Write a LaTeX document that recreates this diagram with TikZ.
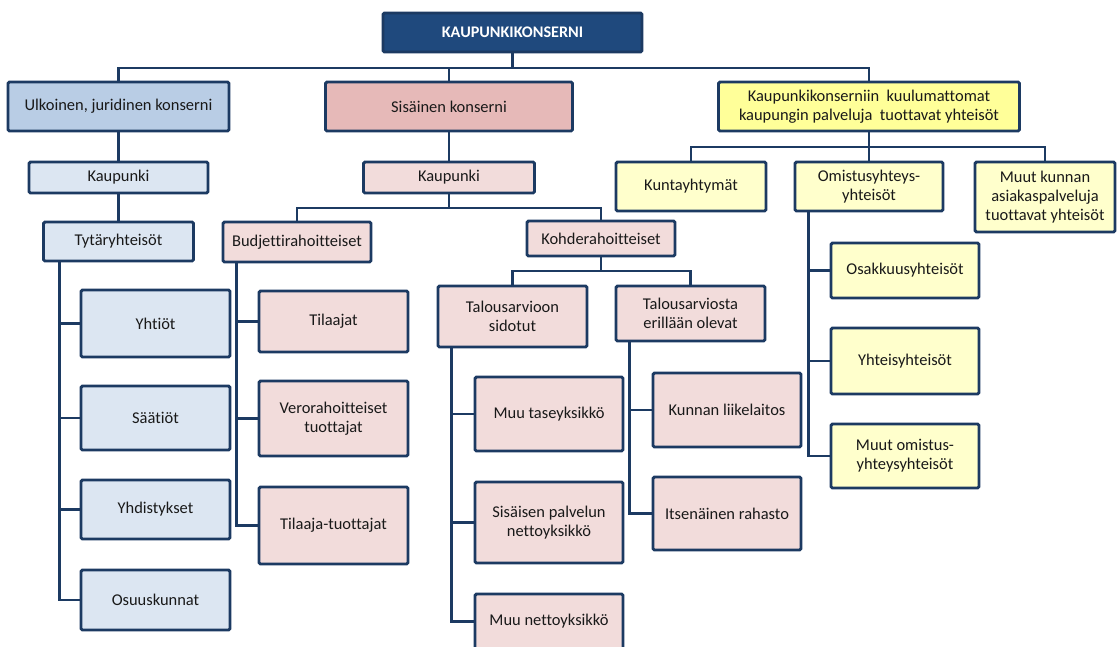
\documentclass[tikz,border=0pt]{standalone}
\usepackage{fontspec}
\setmainfont{Carlito}[Ligatures=NoCommon]
\usetikzlibrary{calc}
\definecolor{bord}{RGB}{28,58,98}
\definecolor{topb}{RGB}{31,73,125}
\definecolor{blue1}{RGB}{185,205,229}
\definecolor{blue2}{RGB}{220,230,242}
\definecolor{pink1}{RGB}{230,185,184}
\definecolor{pink2}{RGB}{242,220,219}
\definecolor{yel1}{RGB}{255,255,153}
\definecolor{yel2}{RGB}{255,255,204}
\tikzset{
  bx/.style={draw=bord,line width=2.1pt,rounded corners=1pt,align=center,inner sep=1pt,text=black!90,font=\fontsize{11.7}{13.6}\selectfont},
  sz/.style 2 args={minimum width=#1*0.025cm,minimum height=#2*0.025cm},
  con/.style={draw=bord,line width=2.1pt},
}
\begin{document}
\begin{tikzpicture}[x=0.025cm,y=-0.025cm]
\pgfmathsetmacro{\tr}{15}
\useasboundingbox (0,0) rectangle (1117,646);
\node[bx,sz={259}{39},fill=topb,text=white,font=\bfseries\fontsize{11.5}{13}\selectfont] (top) at (512.5,32.5) {KAUPUNKIKONSERNI};
\node[bx,sz={221}{49},fill=blue1] (ulk) at (118.5,106.5) {Ulkoinen, juridinen konserni};
\node[bx,sz={247}{49},fill=pink1] (sis) at (449,106.5) {Sisäinen konserni};
\node[bx,sz={301}{49},fill=yel1] (yel) at (869,106.5) {Kaupunkikonserniin\ \ kuulumattomat\\kaupungin palveluja\ \ tuottavat yhteisöt};
\node[bx,sz={179}{31},fill=blue2] (kb) at (118.5,177.5) {Kaupunki};
\node[bx,sz={171}{31},fill=pink2] (kp) at (449,177.5) {Kaupunki};
\node[bx,sz={150}{49},fill=yel2] (kun) at (691,186.5) {Kuntayhtymät};
\node[bx,sz={148}{49},fill=yel2] (omi) at (869,186.5) {Omistusyhteys-\\yhteisöt};
\node[bx,sz={140}{70},fill=yel2] (muu) at (1045,197) {Muut kunnan\\asiakaspalveluja\\tuottavat yhteisöt};
\node[bx,sz={150}{39},fill=blue2] (tyt) at (118.5,241.5) {Tytäryhteisöt};
\node[bx,sz={149}{67},fill=blue2] (yht) at (155.5,323.5) {Yhtiöt};
\node[bx,sz={149}{64},fill=blue2] (saa) at (155.5,418) {Säätiöt};
\node[bx,sz={149}{59},fill=blue2] (yhd) at (155.5,509.5) {Yhdistykset};
\node[bx,sz={149}{60},fill=blue2] (osu) at (155.5,600) {Osuuskunnat};
\node[bx,sz={148}{40},fill=pink2] (bud) at (297,242) {Budjettirahoitteiset};
\node[bx,sz={149}{61},fill=pink2] (til) at (333.5,321.5) {Tilaajat};
\node[bx,sz={149}{75},fill=pink2] (ver) at (333.5,418.5) {Verorahoitteiset\\tuottajat};
\node[bx,sz={149}{77},fill=pink2] (tt) at (333.5,525.5) {Tilaaja-tuottajat};
\node[bx,sz={148}{35},fill=pink2] (koh) at (601,238.5) {Kohderahoitteiset};
\node[bx,sz={149}{61},fill=pink2] (tsi) at (512.5,316.5) {Talousarvioon\\sidotut};
\node[bx,sz={149}{55},fill=pink2] (ter) at (690.5,313.5) {Talousarviosta\\erillään olevat};
\node[bx,sz={148}{74},fill=pink2] (mut) at (549,414) {Muu taseyksikkö};
\node[bx,sz={148}{81},fill=pink2] (spn) at (549,522.5) {Sisäisen palvelun\\nettoyksikkö};
\node[bx,sz={148}{55},fill=pink2] (mne) at (549,621.5) {Muu nettoyksikkö};
\node[bx,sz={148}{74},fill=pink2] (kli) at (727,410) {Kunnan liikelaitos};
\node[bx,sz={148}{73},fill=pink2] (its) at (727,513.5) {Itsenäinen rahasto};
\node[bx,sz={148}{55},fill=yel2] (osa) at (905,270.5) {Osakkuusyhteisöt};
\node[bx,sz={148}{66},fill=yel2] (yhs) at (905,361) {Yhteisyhteisöt};
\node[bx,sz={148}{64},fill=yel2] (muo) at (905,456) {Muut omistus-\\yhteysyhteisöt};
\coordinate (b1) at (0,68);
\coordinate (b2) at (0,208);
\coordinate (b3) at (0,271);
\coordinate (b4) at (0,147);
\draw[con] (ulk.north) |- (b1 -| yel.north) -- (yel.north);
\draw[con] (top.south) -- (top.south |- b1);
\draw[con] (sis.north) -- (sis.north |- b1);
\draw[con] (ulk.south) -- (kb.north);
\draw[con] (kb.south) -- (tyt.north);
\draw[con] (sis.south) -- (kp.north);
\draw[con] (bud.north) |- (b2 -| koh.north) -- (koh.north);
\draw[con] (kp.south) -- (kp.south |- b2);
\draw[con] (tsi.north) |- (b3 -| ter.north) -- (ter.north);
\draw[con] (koh.south) -- (koh.south |- b3);
\draw[con] (kun.north) |- (b4 -| muu.north) -- (muu.north);
\draw[con] (yel.south) -- (omi.north);
\coordinate (ttyt) at ($(tyt.south west)+(17,0)$);
\draw[con] (ttyt) |- (osu.west);
\foreach \c in {yht,saa,yhd} \draw[con] (ttyt |- \c.west) -- (\c.west);
\coordinate (tbud) at ($(bud.south west)+(\tr,0)$);
\draw[con] (tbud) |- (tt.west);
\foreach \c in {til,ver} \draw[con] (tbud |- \c.west) -- (\c.west);
\coordinate (ttsi) at ($(tsi.south west)+(\tr,0)$);
\draw[con] (ttsi) |- (mne.west);
\foreach \c in {mut,spn} \draw[con] (ttsi |- \c.west) -- (\c.west);
\coordinate (tter) at ($(ter.south west)+(\tr,0)$);
\draw[con] (tter) |- (its.west);
\draw[con] (tter |- kli.west) -- (kli.west);
\coordinate (tomi) at ($(omi.south west)+(\tr,0)$);
\draw[con] (tomi) |- (muo.west);
\foreach \c in {osa,yhs} \draw[con] (tomi |- \c.west) -- (\c.west);
\end{tikzpicture}
\end{document}
